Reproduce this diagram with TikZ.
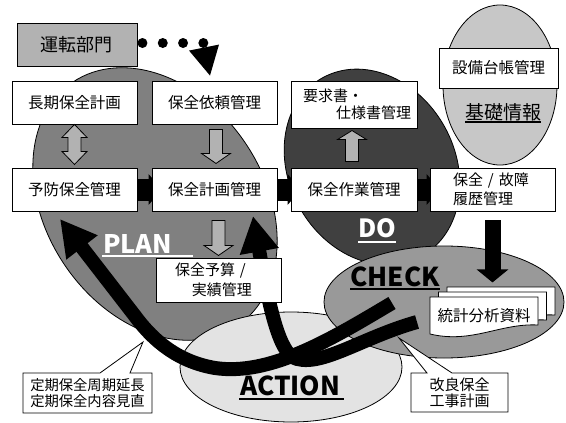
\documentclass[tikz,border=0pt]{standalone}
\usepackage{fontspec}
\setmainfont{Noto Sans CJK JP}
\usetikzlibrary{arrows.meta,calc}
\pgfdeclarelayer{back}
\pgfdeclarelayer{mid}
\pgfsetlayers{back,mid,main}
\definecolor{plang}{gray}{0.5}
\definecolor{dog}{gray}{0.25}
\definecolor{checkg}{gray}{0.6}
\definecolor{actg}{gray}{0.89}
\definecolor{kisog}{gray}{0.78}
\definecolor{arrg}{gray}{0.7}
\begin{document}
\begin{tikzpicture}[x=1pt,y=-1pt,
  box/.style={draw, fill=white, line width=0.9pt, inner sep=0pt, font=\fontsize{15.5}{18}\selectfont},
  grayarr/.style={draw, fill=arrg, line width=0.8pt, line join=miter},
  lab/.style={inner sep=0pt, anchor=base west, font=\bfseries\fontsize{26}{26}\selectfont},
  bigarrow/.style={line width=14pt, -{Triangle[length=36pt,width=37pt]}},
  blackbar/.style={line width=22pt, -{Triangle[length=14pt,width=30pt]}},
  ell/.style={draw, line width=0.8pt},
]
\useasboundingbox (0,0) rectangle (566,423);

% ellipses (back layer)
\begin{pgfonlayer}{back}
\path[ell, fill=kisog] (500,85) ellipse [x radius=57pt, y radius=80pt];
\path[ell, fill=plang, shift={(155,204)}, rotate=-56] (0,0) ellipse [x radius=147pt, y radius=109pt];
\path[ell, fill=dog, shift={(372,167)}, rotate=-61] (0,0) ellipse [x radius=102pt, y radius=83pt];
\path[ell, fill=actg] (291,367) ellipse [x radius=111pt, y radius=55pt];
\path[ell, fill=checkg] (444,302) ellipse [x radius=120pt, y radius=56pt];
\end{pgfonlayer}

% basic info
\node[box, minimum width=119pt, minimum height=40pt] (setsubi) at (498.5,68) {設備台帳管理};
\node[inner sep=0pt, anchor=base west, font=\fontsize{19}{19}\selectfont] (kiso) at (465,119) {基礎情報};
\draw[line width=1.2pt] ([yshift=-3pt]kiso.base west) -- ([yshift=-3pt]kiso.base east);

% boxes
\node[box, minimum width=125pt, minimum height=43pt] (chouki) at (74.5,102.5) {長期保全計画};
\node[box, minimum width=125pt, minimum height=43pt] (irai) at (214.5,102.5) {保全依頼管理};
\node[box, minimum width=125pt, minimum height=43pt] (yobo) at (74.5,189.5) {予防保全管理};
\node[box, minimum width=125pt, minimum height=43pt] (keikaku) at (214.5,189.5) {保全計画管理};
\node[box, minimum width=126pt, minimum height=47pt, align=left, text width=102pt, font=\fontsize{15}{17}\selectfont] (youkyu) at (354,104.5) {要求書・\\\hspace*{33pt}仕様書管理};
\node[box, minimum width=126pt, minimum height=43pt] (sagyou) at (354,189.5) {保全作業管理};
\node[box, minimum width=125pt, minimum height=43pt, align=left, text width=79pt, font=\fontsize{15}{19}\selectfont] (rireki) at (492.5,189.5) {保全 / 故障\\履歴管理};

% black bars between boxes (behind boxes)
\begin{pgfonlayer}{mid}
\draw[blackbar] (yobo.east) -- ([xshift=11pt]keikaku.west);
\draw[blackbar] (keikaku.east) -- ([xshift=11pt]sagyou.west);
\draw[blackbar] (sagyou.east) -- ([xshift=11pt]rireki.west);
\end{pgfonlayer}

% gray block arrows
\draw[grayarr] (chouki.south) -- ++(12.5,13) -- ++(-6,0) -- ++(0,14) -- ++(6,0) -- ++(-12.5,13)
  -- ++(-12.5,-13) -- ++(6,0) -- ++(0,-14) -- ++(-6,0) -- cycle;
\draw[grayarr] ($(irai.south)+(-5,5)$) -- ++(13,0) -- ++(0,24) -- ++(8,0) -- ++(-14.5,10) -- ++(-14.5,-10) -- ++(8,0) -- cycle;
\draw[grayarr] ($(keikaku.south)+(-2.5,9)$) -- ++(13,0) -- ++(0,25) -- ++(8,0) -- ++(-14.5,10) -- ++(-14.5,-10) -- ++(8,0) -- cycle;
\draw[grayarr] ($(sagyou.north)+(-8.5,-6)$) -- ++(13,0) -- ++(0,-22) -- ++(8,0) -- ++(-14.5,-9) -- ++(-14.5,9) -- ++(8,0) -- cycle;

% operations dept and dotted arrow
\node[box, fill=arrg, minimum width=120pt, minimum height=43pt, font=\fontsize{18}{18}\selectfont] (unten) at (77,44.5) {運転部門};
\foreach \i in {0,...,3} \fill ($(unten.east)+(5+20.3*\i,-1.5)$) circle [radius=5pt];
\fill ($(irai.north)+(-4.5,-5)$) -- ++(-21,-25) -- ++(30,-6) -- cycle;

% black arrow to documents
\draw[line width=16pt, -{Triangle[length=13pt,width=31pt]}] ([yshift=-9pt]rireki.south) -- ++(0,62);

% document stack
\foreach \dx/\dy in {17/-10, 8.5/-5, 0/0}
  \filldraw[fill=white, line width=0.8pt, shift={(\dx,\dy)}] (430,297) -- (538,297) -- (538,325)
    .. controls (500,323) and (472,344) .. (430,334) -- cycle;
\node[inner sep=0pt, font=\fontsize{15.5}{18}\selectfont] (toukei) at (484,316) {統計分析資料};

% PDCA labels
\node[lab, text=white, font=\bfseries\fontsize{25.5}{26}\selectfont] (plan) at (103,253) {PLAN};
\draw[white, line width=2pt] ([yshift=-3pt,xshift=-1pt]plan.base west) -- ++(91,0);
\node[lab, text=white, font=\bfseries\fontsize{25}{25}\selectfont] (do) at (358,237) {DO};
\draw[white, line width=2pt] ([yshift=-5pt]do.base west) -- ([yshift=-5pt]do.base east);
\node[lab, font=\bfseries\fontsize{26}{26}\selectfont] (check) at (350,286) {CHECK};
\draw[line width=2pt] ([yshift=-3pt]check.base west) -- ++(90,0);
\node[lab, font=\bfseries\fontsize{26}{26}\selectfont] (action) at (240,395) {ACTION};
\draw[line width=2pt] ([yshift=-3.5pt,xshift=-1pt]action.base west) -- ++(105,0);

% callouts
\filldraw[fill=white, line width=0.8pt] (23,373) -- (100,373) -- (143,342) -- (130,373) -- (152,373) -- (152,413) -- (23,413) -- cycle;
\node[inner sep=0pt, align=left, font=\fontsize{14.3}{16.5}\selectfont] (teiki) at (87.5,393) {定期保全周期延長\\定期保全内容見直};
\filldraw[fill=white, line width=0.8pt] (411,373) -- (427,373) -- (399,338) -- (452,373) -- (508,373) -- (508,412) -- (411,412) -- cycle;
\node[inner sep=0pt, align=center, font=\fontsize{15}{15.5}\selectfont] (kairyo) at (459.5,393) {改良保全\\工事計画};

% big curved arrows
\coordinate (ca) at (392,303);
\coordinate (cb) at (417,322);
\coordinate (ta) at (60,219);
\coordinate (tb) at (253,216);
\draw[bigarrow] (ca) .. controls (330,340) and (270,376) .. (215,368) .. controls (180,362) and (155,343) .. (135,316) -- (ta);
\draw[bigarrow] (cb) .. controls (360,338) and (318,370) .. (292,357) .. controls (277,345) and (268,300) .. (tb);

% budget box on top
\node[box, minimum width=125pt, minimum height=44pt, align=left, text width=87pt, font=\fontsize{15}{20}\selectfont] (yosan) at (218.5,280) {保全予算 /\\\hspace*{17pt}実績管理};
\end{tikzpicture}
\end{document}
